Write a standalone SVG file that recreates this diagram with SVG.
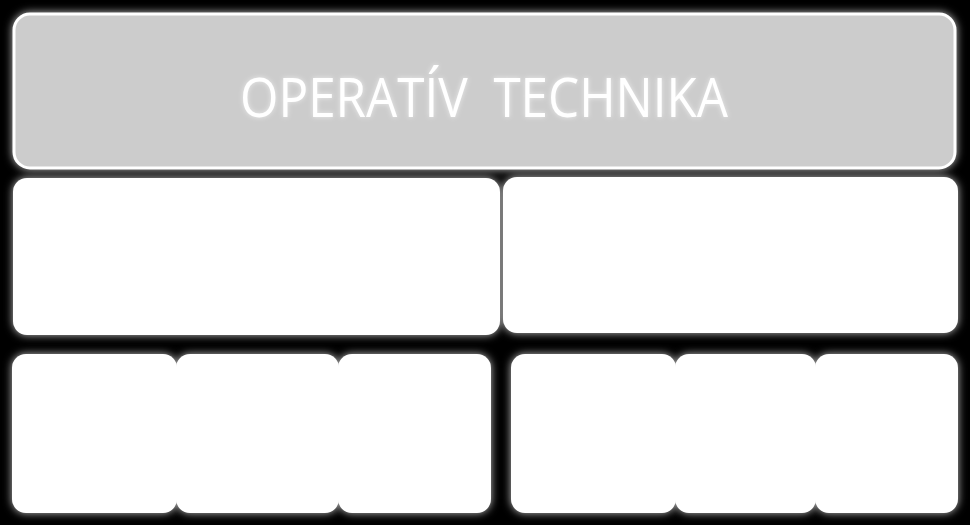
<svg xmlns="http://www.w3.org/2000/svg" width="970" height="525" viewBox="0 0 970 525">
  <defs>
    <filter id="glow" x="-10%" y="-10%" width="120%" height="120%">
      <feGaussianBlur in="SourceAlpha" stdDeviation="4" result="b"/>
      <feFlood flood-color="#ffffff" flood-opacity="0.75"/>
      <feComposite in2="b" operator="in" result="g"/>
      <feMerge><feMergeNode in="g"/><feMergeNode in="SourceGraphic"/></feMerge>
    </filter>
    <filter id="tglow" x="-5%" y="-30%" width="110%" height="160%">
      <feGaussianBlur in="SourceAlpha" stdDeviation="2.5" result="b"/>
      <feFlood flood-color="#ffffff" flood-opacity="0.6"/>
      <feComposite in2="b" operator="in" result="g"/>
      <feMerge><feMergeNode in="g"/><feMergeNode in="SourceGraphic"/></feMerge>
    </filter>
  </defs>
  <style>
    .box { fill: #ffffff; filter: url(#glow); }
    .title { fill: #cccccc; stroke: #ffffff; stroke-width: 3; filter: url(#glow); }
    .t { fill: #ffffff; font-family: "Open Sans", "Noto Sans", sans-serif; font-size: 55px; filter: url(#tglow); }
  </style>
  <rect x="0" y="0" width="970" height="525" fill="#000000"/>
  <g id="title">
    <rect class="title" x="14" y="14" width="941" height="154" rx="16"/>
    <text class="t" x="484" y="117" text-anchor="middle" textLength="488" lengthAdjust="spacingAndGlyphs" xml:space="preserve">OPERATÍV  TECHNIKA</text>
  </g>
  <g id="mid-left"><rect class="box" x="13" y="178" width="487" height="157" rx="14"/></g>
  <g id="mid-right"><rect class="box" x="503" y="177" width="455" height="156" rx="14"/></g>
  <g id="b1"><rect class="box" x="12" y="354" width="165" height="159" rx="14"/></g>
  <g id="b2"><rect class="box" x="176" y="354" width="163" height="159" rx="14"/></g>
  <g id="b3"><rect class="box" x="338" y="354" width="153" height="159" rx="14"/></g>
  <g id="b4"><rect class="box" x="511" y="354" width="165" height="159" rx="14"/></g>
  <g id="b5"><rect class="box" x="675" y="354" width="141" height="159" rx="14"/></g>
  <g id="b6"><rect class="box" x="815" y="354" width="143" height="159" rx="14"/></g>
  <g id="connectors"/>
</svg>
